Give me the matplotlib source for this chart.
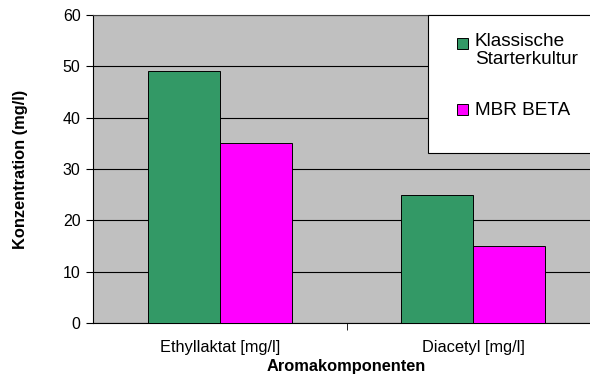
import numpy as np
import matplotlib.pyplot as plt
from matplotlib.patches import Rectangle

plt.rcParams['font.family'] = ['Liberation Sans', 'DejaVu Sans']

categories = ["Ethyllaktat [mg/l]", "Diacetyl [mg/l]"]
series = ["Klassische\nStarterkultur", "MBR BETA"]
klassisch = [49, 25]
mbr_beta = [35, 15]
colors = ["#339966", "#FF00FF"]

W, H = 590, 376
fig = plt.figure(figsize=(W / 100, H / 100), dpi=100)
ax = fig.add_axes([93 / W, 1 - 323 / H, 507 / W, 308 / H])
ax.set_facecolor("#C0C0C0")


def fx(px):
    return px / W


def fy(py):
    return 1 - py / H


x = np.arange(len(categories))
w = 0.284
ax.bar(x - w / 2, klassisch, w, color=colors[0], edgecolor="black", linewidth=0.7, zorder=3)
ax.bar(x + w / 2, mbr_beta, w, color=colors[1], edgecolor="black", linewidth=0.7, zorder=3)

ax.set_xlim(-0.5, 1.5)
ax.set_ylim(0, 60)
ax.set_yticks(range(0, 61, 10))
ax.yaxis.grid(True, color="black", linewidth=0.8, zorder=1)
ax.set_axisbelow(True)

ax.set_xticks(x)
ax.set_xticklabels(categories, fontsize=11.8)
ax.set_xticks([0.5], minor=True)
ax.tick_params(axis="x", which="major", length=0, pad=12)
ax.tick_params(axis="x", which="minor", length=5, direction="out", color="black")
ax.tick_params(axis="y", length=5, direction="out", labelsize=11.5, pad=4)

for s in ax.spines.values():
    s.set_color("black")
    s.set_linewidth(0.8)
ax.spines["top"].set_color("#404040")

ax.set_xlabel("Aromakomponenten", fontsize=11.8, fontweight="bold", labelpad=3)
ax.set_ylabel("Konzentration (mg/l)", fontsize=11.8, fontweight="bold", labelpad=25)

# legend, drawn by hand so the swatch sits on the first text line
fig.add_artist(Rectangle((fx(428), fy(153)), fx(200), fy(15) - fy(153),
                         transform=fig.transFigure, facecolor="white",
                         edgecolor="black", linewidth=0.8, zorder=5))
swatch_top = [38, 104]
text_top = [33, 102]
for lab, c, st, tt in zip(series, colors, swatch_top, text_top):
    fig.add_artist(Rectangle((fx(457), fy(st + 11)), fx(11), fy(st) - fy(st + 11),
                             transform=fig.transFigure, facecolor=c,
                             edgecolor="black", linewidth=0.7, zorder=6))
    fig.text(fx(475), fy(tt), lab, fontsize=13.7, va="top", ha="left",
             linespacing=1.07, zorder=7)

fig.savefig("out.png", dpi=100)
